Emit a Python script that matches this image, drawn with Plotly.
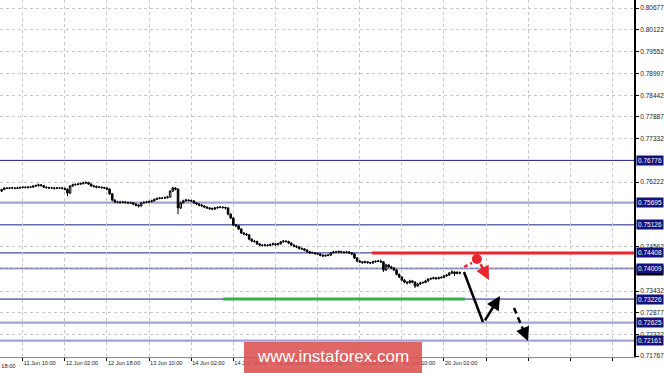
import plotly.graph_objects as go

# ---------------- data ----------------
# hourly bars; x = chart hours relative to "11 Jun 10:00" (weekend gap removed, as in MT4)
hours = list(range(-8, 167))
first_open = 0.7599
closes = [
    0.7603, 0.7607, 0.7606, 0.7607, 0.7607, 0.7606, 0.7607, 0.7608,
    0.7609, 0.7608, 0.7609, 0.7609, 0.7612, 0.7613, 0.7615, 0.7613,
    0.7609, 0.7608, 0.7607, 0.7607, 0.7606, 0.7607, 0.7607, 0.7606,
    0.7604, 0.7594, 0.7612, 0.7615, 0.7616, 0.7617, 0.7618, 0.7620,
    0.7621, 0.7617, 0.7612, 0.7611, 0.7609, 0.7609, 0.7608, 0.7607,
    0.7604, 0.7592, 0.7576, 0.7571, 0.7571, 0.7570, 0.7571, 0.7570,
    0.7569, 0.7569, 0.7566, 0.7563, 0.7561, 0.7569, 0.7570, 0.7571,
    0.7572, 0.7574, 0.7578, 0.7580, 0.7581, 0.7581, 0.7582, 0.7584,
    0.7599, 0.7607, 0.7604, 0.7556, 0.7569, 0.7574, 0.7576, 0.7575,
    0.7574, 0.7569, 0.7566, 0.7563, 0.7561, 0.7558, 0.7556, 0.7554,
    0.7553, 0.7556, 0.7557, 0.7558, 0.7557, 0.7556, 0.7540, 0.7530,
    0.7512, 0.7510, 0.7502, 0.7492, 0.7489, 0.7487, 0.7476, 0.7471,
    0.7470, 0.7464, 0.7461, 0.7460, 0.7461, 0.7460, 0.7462, 0.7464,
    0.7462, 0.7464, 0.7469, 0.7471, 0.7470, 0.7466, 0.7461, 0.7458,
    0.7456, 0.7452, 0.7451, 0.7448, 0.7444, 0.7441, 0.7441, 0.7439,
    0.7438, 0.7435, 0.7433, 0.7434, 0.7435, 0.7441, 0.7443, 0.7443,
    0.7444, 0.7443, 0.7442, 0.7443, 0.7441, 0.7438, 0.7428, 0.7420,
    0.7418, 0.7416, 0.7418, 0.7416, 0.7415, 0.7418, 0.7419, 0.7420,
    0.7418, 0.7397, 0.7410, 0.7405, 0.7402, 0.7397, 0.7386, 0.7379,
    0.7371, 0.7366, 0.7364, 0.7369, 0.7366, 0.7356, 0.7361, 0.7364,
    0.7365, 0.7369, 0.7374, 0.7375, 0.7377, 0.7375, 0.7377, 0.7378,
    0.7382, 0.7384, 0.7389, 0.7392, 0.7388, 0.7391, 0.7389,
]
highs = [
    0.7605, 0.7609, 0.7609, 0.7609, 0.7610, 0.7609, 0.7610, 0.7611,
    0.7612, 0.7611, 0.7612, 0.7612, 0.7614, 0.7616, 0.7618, 0.7617,
    0.7614, 0.7611, 0.7610, 0.7610, 0.7609, 0.7609, 0.7609, 0.7609,
    0.7608, 0.7606, 0.7614, 0.7618, 0.7619, 0.7620, 0.7621, 0.7623,
    0.7624, 0.7623, 0.7619, 0.7615, 0.7613, 0.7612, 0.7611, 0.7610,
    0.7609, 0.7606, 0.7594, 0.7578, 0.7574, 0.7574, 0.7574, 0.7573,
    0.7572, 0.7572, 0.7571, 0.7568, 0.7565, 0.7571, 0.7573, 0.7574,
    0.7575, 0.7577, 0.7580, 0.7583, 0.7584, 0.7584, 0.7585, 0.7587,
    0.7601, 0.7610, 0.7609, 0.7606, 0.7572, 0.7577, 0.7579, 0.7578,
    0.7577, 0.7575, 0.7571, 0.7568, 0.7566, 0.7563, 0.7560, 0.7558,
    0.7557, 0.7558, 0.7560, 0.7561, 0.7560, 0.7559, 0.7558, 0.7542,
    0.7532, 0.7515, 0.7512, 0.7504, 0.7494, 0.7492, 0.7489, 0.7478,
    0.7474, 0.7472, 0.7466, 0.7463, 0.7464, 0.7463, 0.7465, 0.7467,
    0.7466, 0.7467, 0.7471, 0.7474, 0.7473, 0.7472, 0.7468, 0.7463,
    0.7460, 0.7458, 0.7455, 0.7453, 0.7450, 0.7446, 0.7444, 0.7443,
    0.7442, 0.7440, 0.7437, 0.7437, 0.7438, 0.7443, 0.7446, 0.7446,
    0.7447, 0.7446, 0.7445, 0.7446, 0.7445, 0.7443, 0.7440, 0.7430,
    0.7422, 0.7420, 0.7421, 0.7420, 0.7418, 0.7421, 0.7422, 0.7423,
    0.7424, 0.7420, 0.7413, 0.7412, 0.7408, 0.7404, 0.7399, 0.7388,
    0.7381, 0.7374, 0.7368, 0.7372, 0.7371, 0.7368, 0.7364, 0.7367,
    0.7368, 0.7372, 0.7376, 0.7378, 0.7380, 0.7379, 0.7380, 0.7381,
    0.7385, 0.7387, 0.7392, 0.7396, 0.7394, 0.7394, 0.7393,
]
lows = [
    0.7597, 0.7602, 0.7604, 0.7604, 0.7605, 0.7604, 0.7604, 0.7605,
    0.7606, 0.7606, 0.7606, 0.7607, 0.7608, 0.7610, 0.7611, 0.7611,
    0.7607, 0.7605, 0.7604, 0.7605, 0.7603, 0.7604, 0.7605, 0.7603,
    0.7601, 0.7586, 0.7592, 0.7610, 0.7613, 0.7614, 0.7615, 0.7616,
    0.7617, 0.7615, 0.7610, 0.7608, 0.7606, 0.7607, 0.7605, 0.7604,
    0.7601, 0.7589, 0.7573, 0.7568, 0.7568, 0.7567, 0.7568, 0.7567,
    0.7566, 0.7566, 0.7563, 0.7560, 0.7557, 0.7559, 0.7567, 0.7568,
    0.7569, 0.7570, 0.7572, 0.7576, 0.7578, 0.7579, 0.7579, 0.7580,
    0.7582, 0.7597, 0.7601, 0.7540, 0.7553, 0.7567, 0.7572, 0.7572,
    0.7571, 0.7566, 0.7563, 0.7560, 0.7558, 0.7555, 0.7553, 0.7551,
    0.7550, 0.7551, 0.7554, 0.7555, 0.7554, 0.7552, 0.7537, 0.7527,
    0.7509, 0.7507, 0.7499, 0.7489, 0.7486, 0.7484, 0.7473, 0.7468,
    0.7467, 0.7461, 0.7458, 0.7457, 0.7458, 0.7457, 0.7458, 0.7460,
    0.7459, 0.7460, 0.7462, 0.7467, 0.7467, 0.7463, 0.7458, 0.7455,
    0.7453, 0.7449, 0.7448, 0.7445, 0.7441, 0.7438, 0.7438, 0.7436,
    0.7435, 0.7432, 0.7430, 0.7431, 0.7432, 0.7433, 0.7439, 0.7441,
    0.7441, 0.7440, 0.7439, 0.7440, 0.7438, 0.7435, 0.7425, 0.7417,
    0.7415, 0.7413, 0.7414, 0.7413, 0.7412, 0.7413, 0.7416, 0.7417,
    0.7415, 0.7392, 0.7395, 0.7402, 0.7399, 0.7394, 0.7383, 0.7376,
    0.7368, 0.7363, 0.7360, 0.7362, 0.7363, 0.7351, 0.7354, 0.7359,
    0.7362, 0.7363, 0.7367, 0.7372, 0.7373, 0.7372, 0.7373, 0.7375,
    0.7376, 0.7380, 0.7382, 0.7387, 0.7382, 0.7386, 0.7386,
]
opens = [first_open] + closes[:-1]

# x-axis ticks (chart hours) and labels
x_tick_hours = [-16, 0, 16, 32, 48, 64, 80, 96, 112, 128, 144, 160, 176, 192, 208, 224]
x_tick_labels = ["10 Jun 18:00", "11 Jun 10:00", "12 Jun 02:00", "12 Jun 18:00",
                 "13 Jun 10:00", "14 Jun 02:00", "14 Jun 18:00", "15 Jun 10:00",
                 "18 Jun 02:00", "18 Jun 18:00", "19 Jun 10:00", "20 Jun 02:00",
                 "", "", "", ""]

# price-scale grid ticks
y_ticks = [0.80677, 0.80122, 0.79552, 0.78997, 0.78442, 0.77887, 0.77332,
           0.76222, 0.74562, 0.73432, 0.72877, 0.72322, 0.71767]

# support / resistance levels
levels = [0.76776, 0.75695, 0.75126, 0.74408, 0.74009, 0.73226, 0.72625, 0.72161]
level_kind = ["dark", "light", "dark", "dark", "light", "dark", "light", "light"]
bid_price = 0.73950

# highlighted lines (start hour, end hour, price)
red_line = (132.7, 232.2, 0.74408)
green_line = (76.1, 168.0, 0.73226)

# forecast drawing points (hour, price)
red_dash = [(167.6, 0.74047), (170.6, 0.74150)]
red_dot = (172.5, 0.74252)
red_arrow = [(173.6, 0.74160), (177.1, 0.73714)]
black_line = [(167.6, 0.73920), (174.8, 0.72639)]
black_arrow = [(175.2, 0.72640), (181.3, 0.73305)]
black_dash = [(186.6, 0.72997), (191.9, 0.72152)]

# ---------------- figure ----------------
X_RANGE = [-8.62, 232.17]
Y_RANGE = [0.71743, 0.80882]
NAVY = "#1c1c86"
LAV = "#a3a3d6"
LABEL_BG = "#12127a"
FONT = "Liberation Sans"
PLOT_W = 634.0
XFONT = 5.6
YFONT = 6.5

fig = go.Figure()

shapes = []
for lv, kind in zip(levels, level_kind):
    shapes.append(dict(type="line", xref="paper", x0=0, x1=1, yref="y", y0=lv, y1=lv,
                       line=dict(color=NAVY if kind == "dark" else LAV,
                                 width=1 if kind == "dark" else 2.2),
                       layer="below"))
# bid line (dashed) on the 0.74009 level
shapes.append(dict(type="line", xref="paper", x0=0, x1=1, yref="y", y0=levels[4] + 0.00002,
                   y1=levels[4] + 0.00002, line=dict(color="#8080a8", width=1, dash="3px,2px"),
                   layer="below"))

fig.add_trace(go.Candlestick(
    x=hours, open=opens, high=highs, low=lows, close=closes,
    increasing=dict(line=dict(color="black", width=1), fillcolor="white"),
    decreasing=dict(line=dict(color="black", width=1), fillcolor="black"),
    whiskerwidth=0, hoverinfo="skip", showlegend=False))

# red and green horizontal lines
fig.add_trace(go.Scatter(x=[red_line[0], red_line[1]], y=[red_line[2], red_line[2]],
                         mode="lines", line=dict(color="#e8242c", width=3),
                         hoverinfo="skip", showlegend=False))
fig.add_trace(go.Scatter(x=[green_line[0], green_line[1]], y=[green_line[2], green_line[2]],
                         mode="lines", line=dict(color="#34b24a", width=3),
                         hoverinfo="skip", showlegend=False))

# forecast lines
fig.add_trace(go.Scatter(x=[p[0] for p in red_dash], y=[p[1] for p in red_dash],
                         mode="lines", line=dict(color="#e8242c", width=2.5, dash="4px,3px"),
                         hoverinfo="skip", showlegend=False))
fig.add_trace(go.Scatter(x=[red_dot[0]], y=[red_dot[1]], mode="markers",
                         marker=dict(color="#e8242c", size=10),
                         hoverinfo="skip", showlegend=False))
fig.add_trace(go.Scatter(x=[p[0] for p in black_line], y=[p[1] for p in black_line],
                         mode="lines", line=dict(color="black", width=2.5),
                         hoverinfo="skip", showlegend=False))
fig.add_trace(go.Scatter(x=[black_dash[0][0], black_dash[1][0] - 1.2],
                         y=[black_dash[0][1], black_dash[1][1] + 0.0019],
                         mode="lines", line=dict(color="black", width=2.5, dash="6px,4px"),
                         hoverinfo="skip", showlegend=False))

annotations = []
# arrows
annotations.append(dict(x=red_arrow[1][0], y=red_arrow[1][1], ax=red_arrow[0][0], ay=red_arrow[0][1],
                        xref="x", yref="y", axref="x", ayref="y", text="", showarrow=True,
                        arrowhead=2, arrowsize=1.1, arrowwidth=2.5, arrowcolor="#e8242c"))
annotations.append(dict(x=black_arrow[1][0], y=black_arrow[1][1], ax=black_arrow[0][0],
                        ay=black_arrow[0][1], xref="x", yref="y", axref="x", ayref="y", text="",
                        showarrow=True, arrowhead=2, arrowsize=1.1, arrowwidth=2.5,
                        arrowcolor="black"))
annotations.append(dict(x=black_dash[1][0], y=black_dash[1][1], ax=black_dash[1][0] - 1.3,
                        ay=black_dash[1][1] + 0.0021, xref="x", yref="y", axref="x", ayref="y",
                        text="", showarrow=True, arrowhead=2, arrowsize=1.1, arrowwidth=2.5,
                        arrowcolor="black"))

# price labels for bid and levels
annotations.append(dict(xref="paper", x=1, xanchor="left", xshift=2, yref="y", y=bid_price,
                        text="0.73950", showarrow=False, bgcolor="black",
                        font=dict(family=FONT, size=YFONT, color="white"), borderpad=1))
for lv in levels:
    annotations.append(dict(xref="paper", x=1, xanchor="left", xshift=2, yref="y", y=lv,
                            text=f"{lv:.5f}", showarrow=False, bgcolor=LABEL_BG,
                            font=dict(family=FONT, size=YFONT, color="white"), borderpad=1))

# partially visible first time label (tick lies left of the visible area)
first_tick_px = (x_tick_hours[0] - X_RANGE[0]) / (X_RANGE[1] - X_RANGE[0]) * PLOT_W
annotations.append(dict(xref="paper", x=first_tick_px / PLOT_W, xanchor="left", yref="paper", y=0,
                        yanchor="top", yshift=-4, xshift=0, text=x_tick_labels[0],
                        showarrow=False, font=dict(family=FONT, size=XFONT, color="#222")))

# watermark
shapes.append(dict(type="rect", xref="paper", yref="paper", x0=244 / PLOT_W, x1=422 / PLOT_W,
                   y0=-16 / 357, y1=15 / 357, fillcolor="rgba(220,80,80,0.88)",
                   line=dict(width=0), layer="above"))
annotations.append(dict(xref="paper", yref="paper", x=333 / PLOT_W, y=0.5 / 357,
                        text="www.instaforex.com", showarrow=False,
                        font=dict(family=FONT, size=17, color="white"),
                        xanchor="center", yanchor="middle"))

fig.update_layout(
    width=665, height=373,
    margin=dict(l=0, r=31, t=0, b=16),
    paper_bgcolor="white", plot_bgcolor="white",
    shapes=shapes, annotations=annotations,
    showlegend=False, boxgap=0.15,
    xaxis=dict(range=X_RANGE, rangeslider=dict(visible=False),
               tickvals=x_tick_hours, ticktext=x_tick_labels,
               ticklabelposition="outside right", tickangle=0,
               ticks="outside", ticklen=3, tickcolor="black",
               showgrid=True, gridcolor="#c8c8c8", griddash="3px,3px", gridwidth=1,
               showline=True, linecolor="#888", linewidth=1,
               tickfont=dict(family=FONT, size=XFONT, color="#222"), zeroline=False,
               fixedrange=True),
    yaxis=dict(range=Y_RANGE, side="right", tickvals=y_ticks,
               ticktext=[f"{v:.5f}" for v in y_ticks],
               ticks="outside", ticklen=3, tickcolor="black",
               showgrid=True, gridcolor="#c8c8c8", griddash="3px,3px", gridwidth=1,
               showline=True, linecolor="black", linewidth=2,
               tickfont=dict(family=FONT, size=YFONT, color="#222"), zeroline=False,
               fixedrange=True),
)

fig.write_html("out.html")
